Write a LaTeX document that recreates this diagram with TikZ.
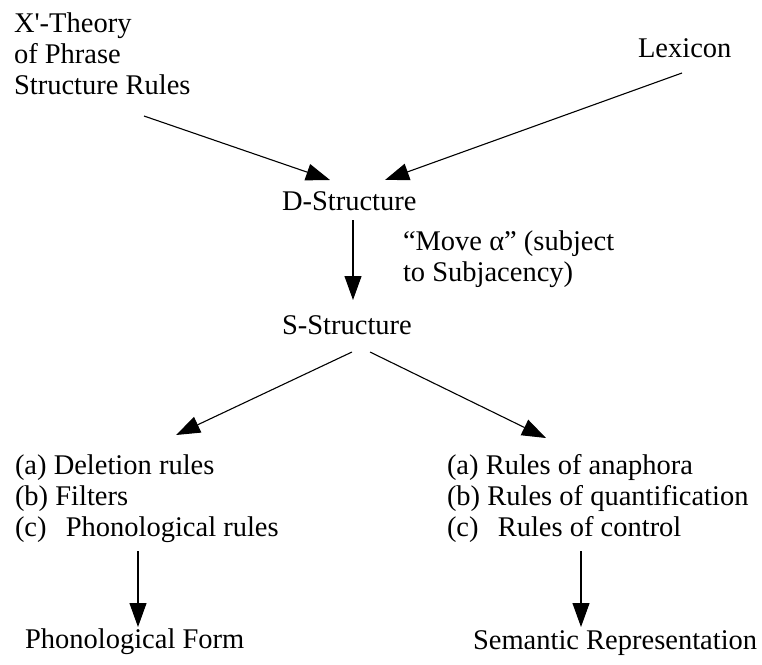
\documentclass[tikz,border=0pt]{standalone}
\usepackage{fontspec}
\setmainfont{Liberation Serif}
\usetikzlibrary{arrows.meta}
\begin{document}
\begin{tikzpicture}[x=1pt,y=-1pt,
  every node/.style={inner sep=0pt,outer sep=0pt,font=\fontsize{28.5}{31.3}\selectfont},
  lbl/.style={anchor=base west},
  arr/.style={line width=1.1pt,-{Triangle[length=24pt,width=17pt]}}]
\useasboundingbox (0,0) rectangle (762,664);
% texts
\node[lbl] (xt) at (14,32) {\begin{tabular}[t]{@{}l@{}}X\textquotesingle-Theory\\of Phrase\\Structure Rules\end{tabular}};
\node[lbl] (lex) at (638,57) {Lexicon};
\node[lbl] (ds) at (282,210) {D-Structure};
\node[lbl] (mv) at (403,250) {\begin{tabular}[t]{@{}l@{}}“Move α” (subject\\to Subjacency)\end{tabular}};
\node[lbl] (ss) at (282,334) {S-Structure};
\node[lbl] (pfr) at (15,474) {\begin{tabular}[t]{@{}l@{}}(a) Deletion rules\\(b) Filters\\(c)\hspace{12pt} Phonological rules\end{tabular}};
\node[lbl] (sem) at (447,474) {\begin{tabular}[t]{@{}l@{}}(a) Rules of anaphora\\(b) Rules of quantification\\(c)\hspace{12pt} Rules of control\end{tabular}};
\node[lbl] (pf) at (25,648) {Phonological Form};
\node[lbl] (sr) at (473,649) {Semantic Representation};
% connector end points
\coordinate (xtS) at (144,116);
\coordinate (dsL) at (330,180);
\coordinate (lexS) at (682,73);
\coordinate (dsR) at (385,180);
\coordinate (dsB) at (353,220);
\coordinate (ssT) at (353,300);
\coordinate (ssL) at (352,352);
\coordinate (pfrT) at (176,435);
\coordinate (ssR) at (370,352);
\coordinate (semT) at (546,438);
\coordinate (pfrB) at (138,551);
\coordinate (pfT) at (138,627);
\coordinate (semB) at (581,551);
\coordinate (srT) at (581,627);
% connectors
\draw[arr] (xtS) -- (dsL);
\draw[arr] (lexS) -- (dsR);
\draw[arr] (dsB) -- (ssT);
\draw[arr] (ssL) -- (pfrT);
\draw[arr] (ssR) -- (semT);
\draw[arr] (pfrB) -- (pfT);
\draw[arr] (semB) -- (srT);
\end{tikzpicture}
\end{document}
